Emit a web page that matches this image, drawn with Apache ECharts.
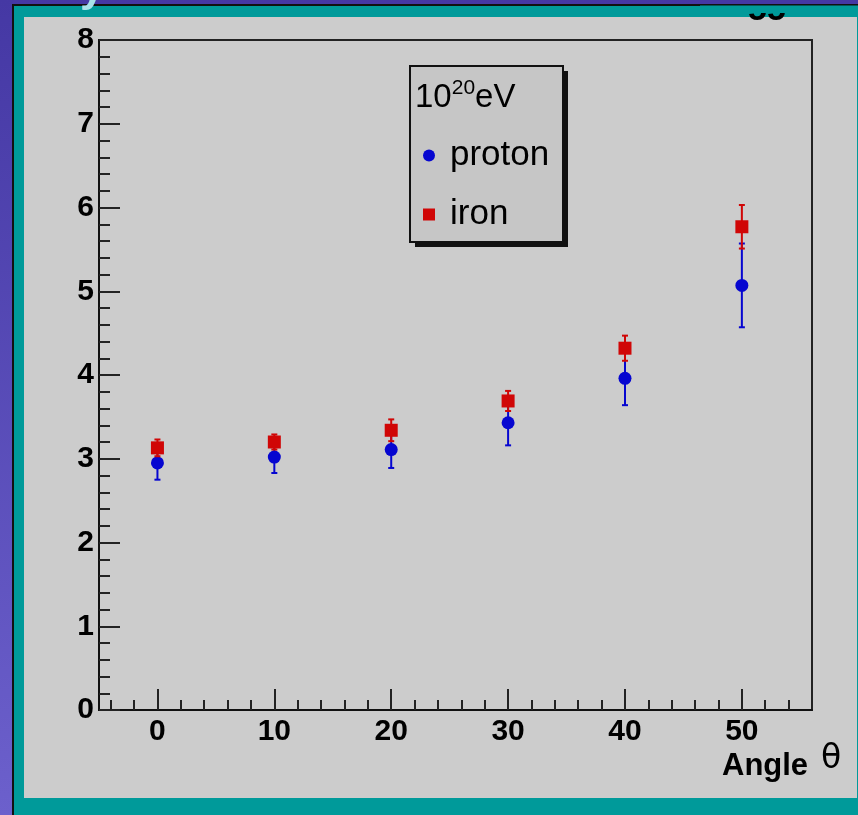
<!DOCTYPE html>
<html>
<head>
<meta charset="utf-8">
<script src="https://cdn.jsdelivr.net/npm/echarts@6/dist/echarts.min.js"></script>
<style>
html,body{margin:0;padding:0;background:#4a42a8;}
#c{width:858px;height:815px;}
</style>
</head>
<body>
<div id="c"></div>
<script>
// ---- data ----
const angles = [0, 10, 20, 30, 40, 50];
const protonMean = [2.95, 3.02, 3.11, 3.43, 3.96, 5.07];
const protonErr  = [0.20, 0.19, 0.22, 0.27, 0.32, 0.50];
const ironMean   = [3.13, 3.20, 3.34, 3.69, 4.32, 5.77];
const ironErr    = [0.10, 0.09, 0.13, 0.12, 0.15, 0.26];
const xMajorTicks = [0, 10, 20, 30, 40, 50];
const xMinorTicks = [-4, -2, 2, 4, 6, 8, 12, 14, 16, 18, 22, 24, 26, 28, 32, 34, 36, 38, 42, 44, 46, 48, 52, 54];
const yTicks = [0, 1, 2, 3, 4, 5, 6, 7, 8];

const FONT = "'Liberation Sans', Arial, Helvetica, sans-serif";
const BLUE = '#0606d0';
const RED = '#d00606';

function errRender(color) {
  return function (params, api) {
    const x = api.value(0), m = api.value(1), e = api.value(2);
    const lo = api.coord([x, m - e]);
    const hi = api.coord([x, m + e]);
    const st = { stroke: color, lineWidth: 2 };
    return {
      type: 'group',
      children: [
        { type: 'line', shape: { x1: lo[0], y1: lo[1], x2: hi[0], y2: hi[1] }, style: st },
        { type: 'line', shape: { x1: lo[0] - 3, y1: lo[1], x2: lo[0] + 3, y2: lo[1] }, style: st },
        { type: 'line', shape: { x1: hi[0] - 3, y1: hi[1], x2: hi[0] + 3, y2: hi[1] }, style: st }
      ]
    };
  };
}

const chart = echarts.init(document.getElementById('c'), null, { renderer: 'canvas' });
const axisLabelStyle = { color: '#000', fontFamily: FONT, fontWeight: 'bold', fontSize: 30 };

chart.setOption({
  animation: false,
  backgroundColor: 'transparent',
  grid: {
    left: 99, top: 40, right: 46, bottom: 105,
    show: true, borderColor: '#222', borderWidth: 2, backgroundColor: 'transparent'
  },
  xAxis: [{
    type: 'value', min: -5, max: 56,
    axisLine: { show: true, onZero: false, lineStyle: { color: '#111', width: 2 } },
    axisTick: { show: true, inside: true, length: 21, customValues: xMajorTicks, lineStyle: { color: '#222', width: 2 } },
    axisLabel: { show: true, customValues: xMajorTicks, margin: 7, ...axisLabelStyle },
    splitLine: { show: false }
  }, {
    type: 'value', min: -5, max: 56, position: 'bottom',
    axisLine: { show: false },
    axisTick: { show: true, inside: true, length: 10, customValues: xMinorTicks, lineStyle: { color: '#222', width: 2 } },
    axisLabel: { show: false },
    splitLine: { show: false }
  }],
  yAxis: {
    type: 'value', min: 0, max: 8, interval: 1,
    axisLine: { show: true, onZero: false, lineStyle: { color: '#111', width: 2 } },
    axisTick: { show: true, inside: true, length: 21, lineStyle: { color: '#222', width: 2 } },
    minorTick: { show: true, splitNumber: 5, length: 11, lineStyle: { color: '#222', width: 2 } },
    axisLabel: { show: true, margin: 5, customValues: yTicks, ...axisLabelStyle },
    splitLine: { show: false }
  },
  legend: {
    z: 200,
    orient: 'vertical',
    left: 418, top: 133,
    itemWidth: 12, itemHeight: 12,
    itemGap: 24,
    textStyle: { fontFamily: FONT, fontSize: 35, color: '#000', padding: [0, 0, 0, 10] },
    data: [
      { name: 'proton', icon: 'circle', itemStyle: { color: BLUE } },
      { name: 'iron', icon: 'rect', itemStyle: { color: RED } }
    ]
  },
  series: [
    { type: 'custom', name: 'protonErr', renderItem: errRender(BLUE), z: 3,
      data: angles.map((a, i) => [a, protonMean[i], protonErr[i]]), silent: true },
    { type: 'scatter', name: 'proton', symbol: 'circle', symbolSize: 13, z: 4,
      itemStyle: { color: BLUE, opacity: 1 },
      data: angles.map((a, i) => [a, protonMean[i]]) },
    { type: 'custom', name: 'ironErr', renderItem: errRender(RED), z: 5,
      data: angles.map((a, i) => [a, ironMean[i], ironErr[i]]), silent: true },
    { type: 'scatter', name: 'iron', symbol: 'rect', symbolSize: 13, z: 6,
      itemStyle: { color: RED, opacity: 1 },
      data: angles.map((a, i) => [a, ironMean[i]]) }
  ],
  graphic: [
    // page background
    { type: 'rect', z: -30, silent: true, shape: { x: 0, y: 0, width: 858, height: 815 },
      style: { fill: new echarts.graphic.LinearGradient(0, 0, 0, 1, [
        { offset: 0, color: '#4538a4' }, { offset: 1, color: '#6c60cc' }]) } },
    { type: 'rect', z: -29, silent: true, shape: { x: 12, y: 4, width: 846, height: 811 }, style: { fill: '#111' } },
    { type: 'rect', z: -28, silent: true, shape: { x: 14, y: 6, width: 844, height: 809 }, style: { fill: '#009a9a' } },
    { type: 'rect', z: -27, silent: true, shape: { x: 24, y: 17, width: 833, height: 781 }, style: { fill: '#cccccc' } },
    // clipped fragments of slide text
    { type: 'text', z: 300, silent: true, left: 748, top: -6,
      style: { text: '55', fontFamily: FONT, fontWeight: 'bold', fontSize: 34, fill: '#000' } },
    { type: 'rect', z: 400, silent: true, shape: { x: 700, y: 5, width: 158, height: 8 }, style: { fill: '#009a9a' } },
    { type: 'rect', z: 400, silent: true, shape: { x: 700, y: 0, width: 158, height: 4 }, style: { fill: '#4538a4' } },
    { type: 'rect', z: 400, silent: true, shape: { x: 700, y: 4, width: 158, height: 1.5 }, style: { fill: '#111' } },
    { type: 'text', z: 402, silent: true, left: 80, top: -33,
      style: { text: 'y', fontFamily: FONT, fontWeight: 'bold', fontSize: 44, fill: '#a8e2ea' } },
    // legend box
    { type: 'rect', z: 100, silent: true, shape: { x: 415, y: 71, width: 153, height: 176 }, style: { fill: '#111' } },
    { type: 'rect', z: 101, silent: true, shape: { x: 410, y: 66, width: 153, height: 176 },
      style: { fill: '#c6c6c6', stroke: '#111', lineWidth: 2 } },
    { type: 'text', z: 102, silent: true, left: 415, top: 78,
      style: {
        text: '{n|10}{s|20}{n|eV}',
        rich: {
          n: { fontFamily: FONT, fontSize: 33, fill: '#000', verticalAlign: 'bottom', lineHeight: 36 },
          s: { fontFamily: FONT, fontSize: 21, fill: '#000', verticalAlign: 'top', lineHeight: 36, padding: [0, 0, 14, 0] }
        }
      } },
    // x axis title
    { type: 'text', z: 50, silent: true, left: 722, top: 751,
      style: { text: 'Angle', fontFamily: FONT, fontWeight: 'bold', fontSize: 31, fill: '#000' } },
    { type: 'text', z: 50, silent: true, left: 821, top: 743,
      style: { text: 'θ', fontFamily: "'DejaVu Sans', sans-serif", fontSize: 33, fill: '#000' } }
  ]
});
</script>
</body>
</html>
